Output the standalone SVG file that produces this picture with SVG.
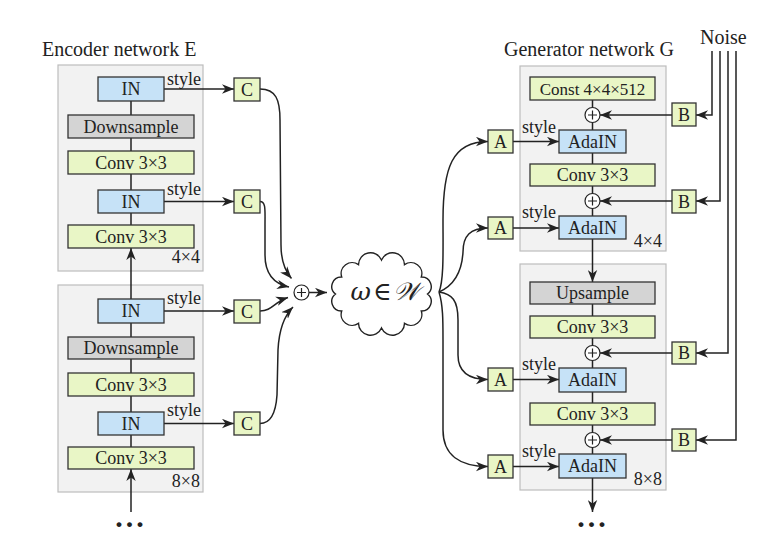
<svg xmlns="http://www.w3.org/2000/svg" width="784" height="540" viewBox="0 0 784 540">
<defs>
<marker id="ah" viewBox="0 0 12 10" refX="12" refY="5" markerWidth="12" markerHeight="10" orient="auto" markerUnits="userSpaceOnUse">
<path d="M0,0.3 L12,5 L0,9.7 L3.5,5 Z" fill="#222"/>
</marker>
<style>
text{font-family:"Liberation Serif","DejaVu Serif",serif;fill:#222;}
.t{font-size:18px;text-anchor:middle;}
.title{font-size:20px;}
.lbl{font-size:18px;}
.panel{fill:#f2f2f2;stroke:#bdbdbd;stroke-width:1.2;}
.blue{fill:#c6e2f7;stroke:#333;stroke-width:1.3;}
.green{fill:#e9f6c6;stroke:#333;stroke-width:1.3;}
.gray{fill:#d4d4d4;stroke:#333;stroke-width:1.3;}
.plus{fill:#fff;stroke:#222;stroke-width:1.2;}
.ln{fill:none;stroke:#222;stroke-width:1.5;}
.arr{fill:none;stroke:#222;stroke-width:1.5;marker-end:url(#ah);}
</style>
</defs>
<rect width="784" height="540" fill="#fff"/>

<!-- Titles -->
<text class="title" x="42" y="56">Encoder network E</text>
<text class="title" x="504" y="56">Generator network G</text>
<text class="title" x="700" y="44">Noise</text>

<!-- Panels -->
<g id="enc-panel-4x4"><rect class="panel" x="58" y="65" width="145" height="206"/><text class="lbl" x="200" y="263" text-anchor="end">4×4</text></g>
<g id="enc-panel-8x8"><rect class="panel" x="58" y="285" width="145" height="207"/><text class="lbl" x="200" y="487" text-anchor="end">8×8</text></g>
<g id="gen-panel-4x4"><rect class="panel" x="520" y="66" width="146" height="185"/><text class="lbl" x="662" y="247" text-anchor="end">4×4</text></g>
<g id="gen-panel-8x8"><rect class="panel" x="520" y="264" width="146" height="226"/><text class="lbl" x="662" y="485" text-anchor="end">8×8</text></g>

<!-- Connectors -->
<g id="connectors">
<path class="ln" d="M131,101 V115 M131,138 V151 M131,174 V190 M131,213 V225"/>
<path class="ln" d="M131,323 V337 M131,359 V373 M131,396 V412 M131,435 V447"/>
<path class="arr" d="M131,299 V248"/>
<path class="arr" d="M131,512 V469"/>
<path class="arr" d="M164,89 H234"/>
<path class="arr" d="M164,201.5 H234"/>
<path class="arr" d="M164,311 H234"/>
<path class="arr" d="M164,423.5 H234"/>
<path class="arr" d="M260,89 C276,89 280,100 280,120 L281,245 C281,262 285,271 291.5,278.5"/>
<path class="arr" d="M260,201.5 C266,201.5 265,210 265,225 L265,255 C265,275 275,284 289,287"/>
<path class="arr" d="M260,311 C272,311 274,302 288,297.5"/>
<path class="arr" d="M260,423.5 C272,423.5 276,410 277,395 L278,350 C279,330 285,315 293,307"/>
<path class="arr" d="M309,292.5 H327"/>
<path class="arr" d="M439,292 C444,280 443,250 443,220 C443,168 452,141.5 488,141.5"/>
<path class="arr" d="M439,292 C455,285 462,270 463,252 C463,236 470,228 488,228"/>
<path class="arr" d="M439,292 C452,294 458,300 458,320 L458,355 C458,372 468,379.5 488,379.5"/>
<path class="arr" d="M439,292 C443,305 443,320 443,340 L443,430 C443,455 460,466.5 488,466.5"/>
<path class="arr" d="M513,141.5 H559"/>
<path class="arr" d="M513,228 H559"/>
<path class="arr" d="M513,379.5 H559"/>
<path class="arr" d="M513,466.5 H559"/>
<path class="ln" d="M592.5,100 V107.5 M592.5,122.5 V130 M592.5,153 V164 M592.5,186 V193.5 M592.5,208.5 V216"/>
<path class="arr" d="M592.5,239 V282"/>
<path class="ln" d="M592.5,304 V316 M592.5,338 V345.5 M592.5,360.5 V368 M592.5,392 V403 M592.5,425 V432.5 M592.5,447.5 V454"/>
<path class="arr" d="M592.5,478 V512"/>
<path class="arr" d="M672,115 H600"/>
<path class="arr" d="M672,201 H600"/>
<path class="arr" d="M672,353 H600"/>
<path class="arr" d="M672,440 H600"/>
<path class="arr" d="M712,51 V115 H696"/>
<path class="arr" d="M720,51 V201 H696"/>
<path class="arr" d="M728,51 V353 H696"/>
<path class="arr" d="M736,51 V440 H696"/>
</g>

<!-- style labels -->
<g id="style-labels">
<text class="lbl" x="167" y="85">style</text>
<text class="lbl" x="167" y="195">style</text>
<text class="lbl" x="167" y="304">style</text>
<text class="lbl" x="167" y="416">style</text>
<text class="lbl" x="522" y="133">style</text>
<text class="lbl" x="522" y="218">style</text>
<text class="lbl" x="522" y="370">style</text>
<text class="lbl" x="522" y="457">style</text>
</g>

<!-- Encoder nodes -->
<g id="e-in1"><rect class="blue" x="98" y="77" width="66" height="24"/><text class="t" x="131" y="95">IN</text></g>
<g id="e-down1"><rect class="gray" x="68" y="115" width="126" height="23"/><text class="t" x="131" y="132.5">Downsample</text></g>
<g id="e-conv1"><rect class="green" x="68" y="151" width="126" height="23"/><text class="t" x="131" y="168.5">Conv 3×3</text></g>
<g id="e-in2"><rect class="blue" x="98" y="190" width="66" height="23"/><text class="t" x="131" y="207.5">IN</text></g>
<g id="e-conv2"><rect class="green" x="68" y="225" width="126" height="23"/><text class="t" x="131" y="242.5">Conv 3×3</text></g>
<g id="e-in3"><rect class="blue" x="98" y="299" width="66" height="24"/><text class="t" x="131" y="317">IN</text></g>
<g id="e-down2"><rect class="gray" x="68" y="337" width="126" height="22"/><text class="t" x="131" y="354">Downsample</text></g>
<g id="e-conv3"><rect class="green" x="68" y="373" width="126" height="23"/><text class="t" x="131" y="390.5">Conv 3×3</text></g>
<g id="e-in4"><rect class="blue" x="98" y="412" width="66" height="23"/><text class="t" x="131" y="429.5">IN</text></g>
<g id="e-conv4"><rect class="green" x="68" y="447" width="126" height="22"/><text class="t" x="131" y="464">Conv 3×3</text></g>
<g id="e-dots"><text x="131" y="527" font-size="30" font-weight="bold" text-anchor="middle" letter-spacing="3">...</text></g>

<g id="c1"><rect class="green" x="234" y="78" width="26" height="23"/><text class="t" x="247" y="95.5">C</text></g>
<g id="c2"><rect class="green" x="234" y="190" width="26" height="23"/><text class="t" x="247" y="207.5">C</text></g>
<g id="c3"><rect class="green" x="234" y="300" width="26" height="23"/><text class="t" x="247" y="317.5">C</text></g>
<g id="c4"><rect class="green" x="234" y="412" width="26" height="23"/><text class="t" x="247" y="429.5">C</text></g>

<g id="e-plus"><circle class="plus" cx="301.5" cy="292.5" r="7.5"/><path class="ln" style="stroke-width:1.2" d="M297,292.5 H306 M301.5,288 V297"/></g>

<g id="w-cloud">
<path fill="#fff" stroke="#222" stroke-width="1.4" d="M427.5,294 A9.5,9.5 0 0 1 421.3,311 A11,11 0 0 1 404.5,323.4 A12,12 0 0 1 381.5,328 A12,12 0 0 1 358.5,323.4 A11,11 0 0 1 341.7,311 A9.5,9.5 0 0 1 335.5,294 A9.5,9.5 0 0 1 341.7,277 A11,11 0 0 1 358.5,264.6 A12,12 0 0 1 381.5,260 A12,12 0 0 1 404.5,264.6 A11,11 0 0 1 421.3,277 A9.5,9.5 0 0 1 427.5,294 Z"/>
<text x="386" y="300" font-size="25" font-style="italic" text-anchor="middle" letter-spacing="2" style="font-family:'DejaVu Serif','Liberation Serif',serif">ω∈𝒲</text>
</g>

<!-- Generator nodes -->
<g id="g-const"><rect class="green" x="530" y="77" width="125" height="23"/><text class="t" x="592.5" y="94.5" style="font-size:17px">Const 4×4×512</text></g>
<g id="g-plus1"><circle class="plus" cx="592.5" cy="115" r="7.5"/><path class="ln" style="stroke-width:1.2" d="M588,115 H597 M592.5,110.5 V119.5"/></g>
<g id="g-ada1"><rect class="blue" x="559" y="130" width="67" height="23"/><text class="t" x="592.5" y="147.5">AdaIN</text></g>
<g id="g-conv1"><rect class="green" x="530" y="164" width="125" height="22"/><text class="t" x="592.5" y="181">Conv 3×3</text></g>
<g id="g-plus2"><circle class="plus" cx="592.5" cy="201" r="7.5"/><path class="ln" style="stroke-width:1.2" d="M588,201 H597 M592.5,196.5 V205.5"/></g>
<g id="g-ada2"><rect class="blue" x="559" y="216" width="67" height="23"/><text class="t" x="592.5" y="233.5">AdaIN</text></g>
<g id="g-up"><rect class="gray" x="530" y="282" width="125" height="22"/><text class="t" x="592.5" y="299">Upsample</text></g>
<g id="g-conv2"><rect class="green" x="530" y="316" width="125" height="22"/><text class="t" x="592.5" y="333">Conv 3×3</text></g>
<g id="g-plus3"><circle class="plus" cx="592.5" cy="353" r="7.5"/><path class="ln" style="stroke-width:1.2" d="M588,353 H597 M592.5,348.5 V357.5"/></g>
<g id="g-ada3"><rect class="blue" x="559" y="368" width="67" height="24"/><text class="t" x="592.5" y="386">AdaIN</text></g>
<g id="g-conv3"><rect class="green" x="530" y="403" width="125" height="22"/><text class="t" x="592.5" y="420">Conv 3×3</text></g>
<g id="g-plus4"><circle class="plus" cx="592.5" cy="440" r="7.5"/><path class="ln" style="stroke-width:1.2" d="M588,440 H597 M592.5,435.5 V444.5"/></g>
<g id="g-ada4"><rect class="blue" x="559" y="454" width="67" height="24"/><text class="t" x="592.5" y="472">AdaIN</text></g>
<g id="g-dots"><text x="593" y="527" font-size="30" font-weight="bold" text-anchor="middle" letter-spacing="3">...</text></g>

<g id="a1"><rect class="green" x="488" y="130" width="25" height="23"/><text class="t" x="500.5" y="147.5">A</text></g>
<g id="a2"><rect class="green" x="488" y="217" width="25" height="22"/><text class="t" x="500.5" y="234">A</text></g>
<g id="a3"><rect class="green" x="488" y="368" width="25" height="23"/><text class="t" x="500.5" y="385.5">A</text></g>
<g id="a4"><rect class="green" x="488" y="455" width="25" height="23"/><text class="t" x="500.5" y="472.5">A</text></g>

<g id="b1"><rect class="green" x="672" y="103" width="24" height="23"/><text class="t" x="684" y="120.5">B</text></g>
<g id="b2"><rect class="green" x="672" y="190" width="24" height="23"/><text class="t" x="684" y="207.5">B</text></g>
<g id="b3"><rect class="green" x="672" y="342" width="24" height="22"/><text class="t" x="684" y="359">B</text></g>
<g id="b4"><rect class="green" x="672" y="429" width="24" height="22"/><text class="t" x="684" y="446">B</text></g>
</svg>
